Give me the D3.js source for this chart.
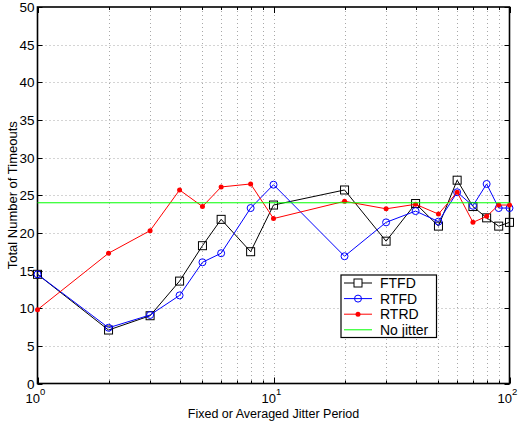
<!DOCTYPE html>
<html>
<head>
<meta charset="utf-8">
<script src="https://cdn.jsdelivr.net/npm/d3@7"></script>
<style>
  body { margin: 0; background: #fff; }
  svg { font-family: "Liberation Sans", Arial, sans-serif; }
</style>
</head>
<body>
<svg id="chart" width="518" height="423"></svg>
<script>
// jitter periods (log x axis)
const periods = [1, 2, 3, 4, 5, 6, 8, 10, 20, 30, 40, 50, 60, 70, 80, 90, 100];

const ftfd = [14.5, 7.1, 9.0, 13.6, 18.3, 21.8, 17.5, 23.7, 25.7, 18.9, 23.9, 20.9, 27.0, 23.5, 22.0, 20.9, 21.4];
const rtfd = [14.5, 7.4, 9.1, 11.7, 16.1, 17.3, 23.3, 26.4, 16.9, 21.4, 22.9, 21.5, 25.4, 23.6, 26.5, 23.3, 23.3];
const rtrd = [9.8, 17.3, 20.3, 25.7, 23.5, 26.1, 26.5, 21.9, 24.2, 23.2, 23.8, 22.5, 25.4, 21.4, 22.2, 23.7, 23.7];
const noJitter = 24;

const yTicks = [0, 5, 10, 15, 20, 25, 30, 35, 40, 45, 50];

const svg = d3.select("#chart");
const pLeft = 37.5, pRight = 509.5, pTop = 7, pBottom = 383.5;

const x = d3.scaleLog().domain([1, 100]).range([pLeft, pRight]);
const y = d3.scaleLinear().domain([0, 50]).range([pBottom, pTop]);

// all decade sub-positions for grid / minor ticks
const minor = [];
for (let d = 1; d <= 10; d *= 10)
  for (let k = 2; k <= 9; k++) minor.push(k * d);

const grid = svg.append("g").attr("stroke", "#a8a8a8").attr("stroke-dasharray", "1,3").attr("stroke-width", 1);
grid.selectAll(".vg").data(minor.concat([10])).enter().append("line")
  .attr("x1", d => Math.round(x(d)) + 0.5).attr("x2", d => Math.round(x(d)) + 0.5)
  .attr("y1", pTop).attr("y2", pBottom);
grid.selectAll(".hg").data(yTicks.slice(1, -1)).enter().append("line")
  .attr("x1", pLeft).attr("x2", pRight)
  .attr("y1", d => Math.round(y(d)) + 0.5).attr("y2", d => Math.round(y(d)) + 0.5);

// ticks (inward, both sides)
const ticks = svg.append("g").attr("stroke", "#000").attr("stroke-width", 1);
yTicks.forEach(v => {
  const yy = Math.round(y(v)) + 0.5;
  ticks.append("line").attr("x1", pLeft).attr("x2", pLeft + 5).attr("y1", yy).attr("y2", yy);
  ticks.append("line").attr("x1", pRight).attr("x2", pRight - 5).attr("y1", yy).attr("y2", yy);
});
minor.forEach(v => {
  const xx = Math.round(x(v)) + 0.5;
  ticks.append("line").attr("x1", xx).attr("x2", xx).attr("y1", pBottom).attr("y2", pBottom - 3);
  ticks.append("line").attr("x1", xx).attr("x2", xx).attr("y1", pTop).attr("y2", pTop + 3);
});
[1, 10, 100].forEach(v => {
  const xx = Math.round(x(v)) + 0.5;
  ticks.append("line").attr("x1", xx).attr("x2", xx).attr("y1", pBottom).attr("y2", pBottom - 6);
  ticks.append("line").attr("x1", xx).attr("x2", xx).attr("y1", pTop).attr("y2", pTop + 6);
});

// frame
svg.append("rect").attr("x", pLeft).attr("y", pTop)
  .attr("width", pRight - pLeft).attr("height", pBottom - pTop)
  .attr("fill", "none").attr("stroke", "#000").attr("stroke-width", 1.6);

// y tick labels
svg.append("g").selectAll("text").data(yTicks).enter().append("text")
  .attr("x", pLeft - 3).attr("y", d => y(d) + 5)
  .attr("text-anchor", "end").attr("font-size", 13.5)
  .text(d => d);

// x tick labels 10^n
const xl = svg.append("g").attr("font-size", 13);
[[1, 0], [10, 1], [100, 2]].forEach(([v, p]) => {
  const t = xl.append("text").attr("x", x(v) - 2).attr("y", 402.5).attr("text-anchor", "middle");
  t.append("tspan").text("10");
  t.append("tspan").attr("dy", -8).attr("font-size", 9.5).text(p);
});

// axis titles
svg.append("text").attr("x", (pLeft + pRight) / 2).attr("y", 417.5)
  .attr("text-anchor", "middle").attr("font-size", 12.5).text("Fixed or Averaged Jitter Period");
svg.append("text").attr("transform", `translate(17,${(pTop + pBottom) / 2}) rotate(-90)`)
  .attr("text-anchor", "middle").attr("font-size", 13).text("Total Number of Timeouts");

const line = d3.line().x((d, i) => x(periods[i])).y(d => y(d));

// FTFD
svg.append("path").datum(ftfd).attr("d", line).attr("fill", "none").attr("stroke", "#000").attr("stroke-width", 1);
svg.append("g").selectAll("rect").data(ftfd).enter().append("rect")
  .attr("x", (d, i) => x(periods[i]) - 4).attr("y", d => y(d) - 4)
  .attr("width", 8).attr("height", 8).attr("fill", "none").attr("stroke", "#000").attr("stroke-width", 1);

// RTFD
svg.append("path").datum(rtfd).attr("d", line).attr("fill", "none").attr("stroke", "#0000ff").attr("stroke-width", 1);
svg.append("g").selectAll("circle").data(rtfd).enter().append("circle")
  .attr("cx", (d, i) => x(periods[i])).attr("cy", d => y(d)).attr("r", 3.5)
  .attr("fill", "none").attr("stroke", "#0000ff").attr("stroke-width", 1);

// RTRD
svg.append("path").datum(rtrd).attr("d", line).attr("fill", "none").attr("stroke", "#ff0000").attr("stroke-width", 1);
svg.append("g").selectAll("circle").data(rtrd).enter().append("circle")
  .attr("cx", (d, i) => x(periods[i])).attr("cy", d => y(d)).attr("r", 2.5)
  .attr("fill", "#ff0000");

// No jitter
svg.append("line").attr("x1", pLeft).attr("x2", pRight)
  .attr("y1", y(noJitter)).attr("y2", y(noJitter))
  .attr("stroke", "#00ff00").attr("stroke-width", 1);

// legend
const lg = svg.append("g");
lg.append("rect").attr("x", 341).attr("y", 275).attr("width", 95.5).attr("height", 62.5)
  .attr("fill", "#fff").attr("stroke", "#000").attr("stroke-width", 1.2);
const items = [
  { name: "FTFD", color: "#000", mark: "square" },
  { name: "RTFD", color: "#0000ff", mark: "circle" },
  { name: "RTRD", color: "#ff0000", mark: "dot" },
  { name: "No jitter", color: "#00ff00", mark: "none" }
];
items.forEach((it, i) => {
  const yy = 283 + i * 15.6;
  lg.append("line").attr("x1", 344).attr("x2", 372).attr("y1", yy).attr("y2", yy)
    .attr("stroke", it.color).attr("stroke-width", 1);
  if (it.mark === "square")
    lg.append("rect").attr("x", 354).attr("y", yy - 4).attr("width", 8).attr("height", 8)
      .attr("fill", "#fff").attr("stroke", it.color);
  if (it.mark === "circle")
    lg.append("circle").attr("cx", 358).attr("cy", yy).attr("r", 3.5).attr("fill", "none").attr("stroke", it.color);
  if (it.mark === "dot")
    lg.append("circle").attr("cx", 358).attr("cy", yy).attr("r", 2.5).attr("fill", it.color);
  lg.append("text").attr("x", 380).attr("y", yy + 5).attr("font-size", 14).text(it.name);
});
</script>
</body>
</html>
